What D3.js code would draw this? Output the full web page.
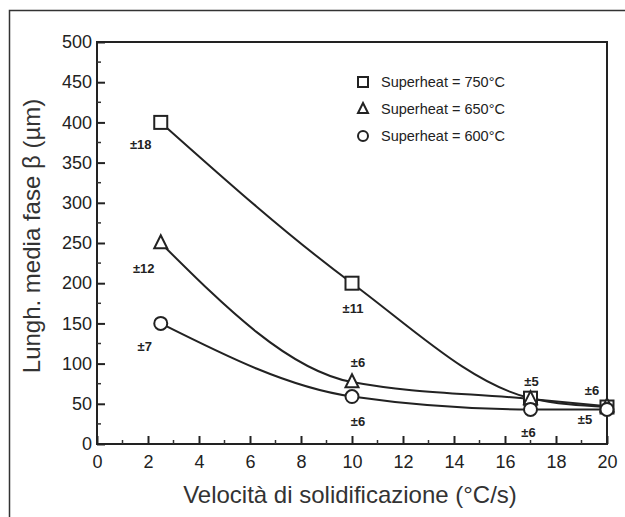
<!DOCTYPE html>
<html>
<head>
<meta charset="utf-8">
<script src="https://cdnjs.cloudflare.com/ajax/libs/d3/7.8.5/d3.min.js"></script>
<style>
  body { margin: 0; background: #fff; }
  svg { font-family: "Liberation Sans", Arial, sans-serif; }
</style>
</head>
<body>
<div id="chart"></div>
<script>
// data
var velocity = [2.5, 10, 17, 20];
var sqValues = [400, 200, 57, 46];
var triValues = [250, 77, 56, 47];
var circValues = [150, 59, 43, 43];
var sqErrors = ["±18", "±11", "±5", "±6"];
var triErrors = ["±12", "±6"];
var circErrors = ["±7", "±6", "±6", "±5"];
var seriesNames = ["Superheat = 750°C", "Superheat = 650°C", "Superheat = 600°C"];
var xTicks = [0, 2, 4, 6, 8, 10, 12, 14, 16, 18, 20];
var yTicks = [0, 50, 100, 150, 200, 250, 300, 350, 400, 450, 500];

var W = 625, H = 517,
    margin = {top: 42, right: 18, bottom: 73, left: 97};

var svg = d3.select("#chart").append("svg")
    .attr("width", W).attr("height", H);

// outer frame of the figure (runs off the page)
svg.append("rect")
    .attr("x", 9.5).attr("y", 10.5)
    .attr("width", W).attr("height", H)
    .attr("fill", "none").attr("stroke", "#333").attr("stroke-width", 1.5);

var x = d3.scaleLinear().domain([0, 20]).range([margin.left, W - margin.right]),
    y = d3.scaleLinear().domain([0, 500]).range([H - margin.bottom, margin.top]);

var g = svg.append("g");

// plot box
g.append("rect")
    .attr("x", x(0)).attr("y", y(500))
    .attr("width", x(20) - x(0)).attr("height", y(0) - y(500))
    .attr("fill", "none").attr("stroke", "#222").attr("stroke-width", 2);

// minor ticks
g.selectAll(".xminor").data(d3.range(1, 20, 2)).enter().append("line")
    .attr("x1", function (d) { return x(d); }).attr("x2", function (d) { return x(d); })
    .attr("y1", y(0)).attr("y2", y(0) - 4)
    .attr("stroke", "#333").attr("stroke-width", 1.5);
g.selectAll(".yminor").data(d3.range(25, 500, 50)).enter().append("line")
    .attr("y1", function (d) { return y(d); }).attr("y2", function (d) { return y(d); })
    .attr("x1", x(0)).attr("x2", x(0) + 4)
    .attr("stroke", "#333").attr("stroke-width", 1.5);

// axes, ticks pointing inward
var xAxis = g.append("g").attr("transform", "translate(0," + y(0) + ")")
    .call(d3.axisBottom(x).tickValues(xTicks).tickSizeInner(-8).tickSizeOuter(0).tickPadding(11));
var yAxis = g.append("g").attr("transform", "translate(" + x(0) + ",0)")
    .call(d3.axisLeft(y).tickValues(yTicks).tickSizeInner(-8).tickSizeOuter(0).tickPadding(12));

[xAxis, yAxis].forEach(function (a) {
  a.select(".domain").remove();
  a.selectAll(".tick line").attr("stroke", "#222").attr("stroke-width", 2);
  a.selectAll("text").attr("font-size", 18).attr("fill", "#222")
      .attr("font-family", "'Liberation Sans', Arial, sans-serif");
});
yAxis.selectAll("text").attr("dx", 7);

// axis titles
svg.append("text")
    .attr("x", (x(0) + x(20)) / 2 - 2).attr("y", 503)
    .attr("text-anchor", "middle").attr("font-size", 24).attr("fill", "#333")
    .text("Velocità di solidificazione (°C/s)");
svg.append("text")
    .attr("transform", "translate(40,236) rotate(-90)")
    .attr("text-anchor", "middle").attr("font-size", 24).attr("fill", "#333")
    .text("Lungh. media fase β (µm)");

// curves
var line = d3.line()
    .x(function (d) { return x(d[0]); })
    .y(function (d) { return y(d[1]); })
    .curve(d3.curveMonotoneX);

var series = [sqValues, triValues, circValues];
series.forEach(function (vals) {
  g.append("path")
      .datum(velocity.map(function (v, i) { return [v, vals[i]]; }))
      .attr("d", line)
      .attr("fill", "none").attr("stroke", "#222").attr("stroke-width", 2);
});

// markers
function marker(sel, type, size) {
  if (type === 0) {
    sel.append("rect").attr("x", -size).attr("y", -size)
        .attr("width", 2 * size).attr("height", 2 * size);
  } else if (type === 1) {
    sel.append("path").attr("d", "M0," + (-size * 1.2) + "L" + size + "," + size * 0.8 + "L" + (-size) + "," + size * 0.8 + "Z");
  } else {
    sel.append("circle").attr("r", size);
  }
  sel.selectAll("*").attr("fill", "#fff").attr("stroke", "#222").attr("stroke-width", 2);
}

series.forEach(function (vals, s) {
  velocity.forEach(function (v, i) {
    g.append("g").attr("transform", "translate(" + x(v) + "," + y(vals[i]) + ")")
        .call(marker, s, 6.5);
  });
});

// error labels (offsets from each point)
var sqOffsets = [[-20, 27], [1, 30], [1, -12], [-15, -12]];
var triOffsets = [[-17, 30], [6, -15]];
var circOffsets = [[-16, 28], [6, 29], [-2, 28], [-22, 15]];
var errSets = [[sqValues, sqErrors, sqOffsets], [triValues, triErrors, triOffsets], [circValues, circErrors, circOffsets]];
errSets.forEach(function (e) {
  e[1].forEach(function (t, i) {
    g.append("text")
        .attr("x", x(velocity[i]) + e[2][i][0]).attr("y", y(e[0][i]) + e[2][i][1])
        .attr("text-anchor", "middle").attr("font-size", 13).attr("font-weight", "bold")
        .attr("fill", "#222").text(t);
  });
});

// legend
var legend = svg.append("g").attr("transform", "translate(363,82)");
seriesNames.forEach(function (n, i) {
  var row = legend.append("g").attr("transform", "translate(0," + i * 27 + ")");
  row.append("g").call(marker, i, 5);
  row.append("text").attr("x", 18).attr("y", 5)
      .attr("font-size", 14.5).attr("fill", "#222").text(n);
});
</script>
</body>
</html>
